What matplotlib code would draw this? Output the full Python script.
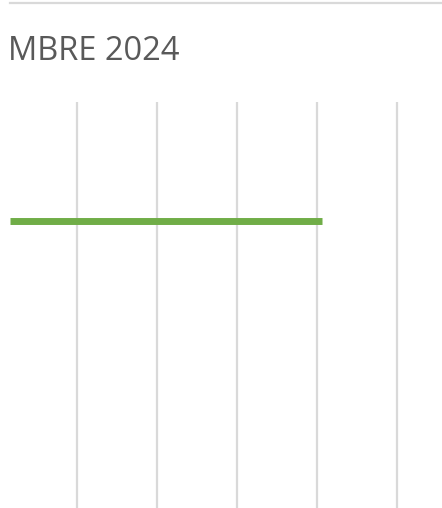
import matplotlib
matplotlib.use("Agg")
import matplotlib.pyplot as plt
from matplotlib.lines import Line2D

# Data
title_text = "MBRE 2024"
grid_ticks = [1, 2, 3, 4, 5]
series_x = [0.1625, 4.0625]
series_y = [0.707, 0.707]

W, H = 442, 508
fig = plt.figure(figsize=(W / 100, H / 100), dpi=100)
fig.patch.set_facecolor("white")

# axes: x from 0 to 442 px, y from 102 px (top) to 508 (bottom)
ax = fig.add_axes([0, 0, 1, (508 - 102) / H])
ax.set_xlim(3 / 80, 445 / 80)
ax.set_ylim(0, 1)
for t in grid_ticks:
    ax.axvline(t, color="#d9d9d9", lw=1.6, zorder=1)
ax.plot(series_x, series_y, color="#70ad47", lw=5.0, solid_capstyle="butt", zorder=3)
for s in ax.spines.values():
    s.set_visible(False)
ax.set_xticks([])
ax.set_yticks([])

# top separator line
fig.add_artist(Line2D([10 / W, 1.0], [1 - 3 / H, 1 - 3 / H], color="#d9d9d9", lw=1.6))

fig.text(8 / W, 1 - 51 / H, title_text, fontsize=23.5, color="#595959",
         family="Open Sans", ha="left", va="center")

fig.savefig("out.png", dpi=100)
